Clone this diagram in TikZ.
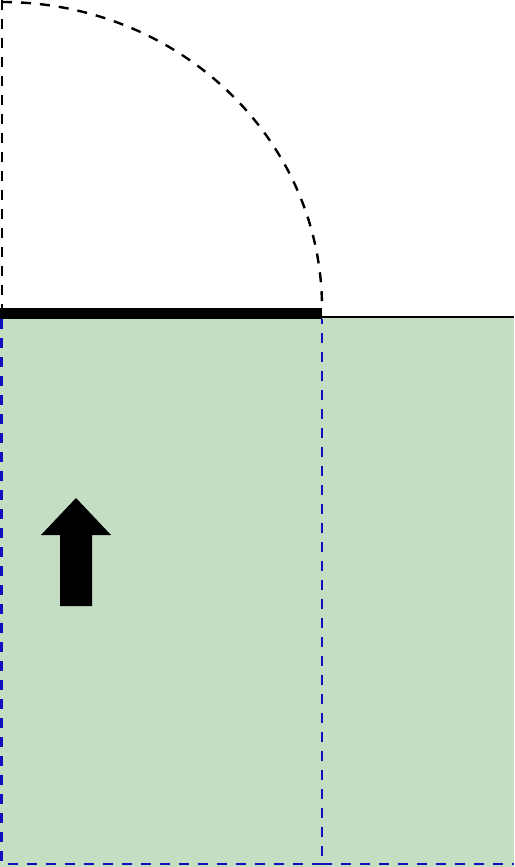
\documentclass[tikz,border=0pt]{standalone}
\definecolor{soilgreen}{RGB}{195,222,195}
\definecolor{dashblue}{RGB}{15,15,190}
\tikzset{
  bluedash/.style={draw=dashblue, line width=2.8pt, dash pattern=on 10pt off 9pt},
  blackdash/.style={draw=black, line width=2.4pt, dash pattern=on 10pt off 9pt},
  bigarrow/.style={fill=black, draw=none}
}
\begin{document}
\begin{tikzpicture}[x=1pt,y=-1pt]
\useasboundingbox (0,0) rectangle (514,867);
% soil
\fill[soilgreen] (0,318) rectangle (514,867);
% ground surface
\coordinate (gl) at (322,317);
\coordinate (gr) at (514,317);
\draw[line width=2.4pt] (gl) -- (gr);
% thick footing line
\coordinate (fl) at (0,313);
\coordinate (fr) at (322,313);
\draw[line width=11pt] (fl) -- (fr);
% dashed vertical at left above footing
\coordinate (lt) at (2,0);
\coordinate (lb) at (2,308);
\draw[blackdash] (lt) -- (lb);
% dashed quarter arc
\coordinate (ac) at (2,2);
\draw[blackdash] (ac) arc[start angle=90, end angle=0, x radius=320, y radius=-306];
% blue dashed rectangle
\coordinate (b1) at (1.5,319);
\coordinate (b2) at (322,864);
\coordinate (b3) at (514,864);
\draw[bluedash] (b1) -- (b1 |- b2) -- (b2) -- (b2 |- b1);
\draw[bluedash] (b2) -- (b3);
% arrow
\fill[bigarrow] (60,606) -- (92,606) -- (92,535) -- (111,535) -- (76,498) -- (41,535) -- (60,535) -- cycle;
\end{tikzpicture}
\end{document}
